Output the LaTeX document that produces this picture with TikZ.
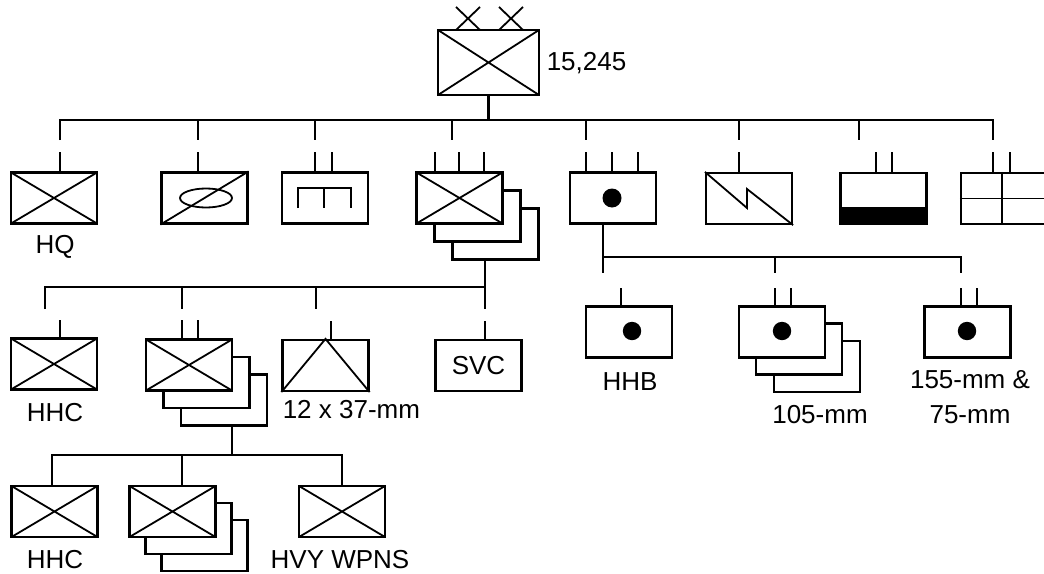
\documentclass[tikz,border=0pt]{standalone}
\usepackage{fontspec}
\setmainfont{Liberation Sans}
\begin{document}
\begin{tikzpicture}[x=0.5pt,y=-0.5pt,line width=1.1pt,
  every node/.style={font=\fontsize{13}{17.5}\selectfont},
  glyph/.style={line width=0.9pt},
  unitbox/.style={draw,line width=1.1pt,fill=white,minimum width=43pt,minimum height=25.5pt,inner sep=0pt},
  crossbox/.style={unitbox,path picture={\draw[glyph] (path picture bounding box.north west)--(path picture bounding box.south east) (path picture bounding box.south west)--(path picture bounding box.north east);}}]
\useasboundingbox (0,0) rectangle (1044,573);
\clip (0,0) rectangle (1044,573);
% division
\node[crossbox,minimum width=50.5pt,minimum height=32.5pt] (div) at (488.5,62.5) {};
\foreach \c in {468,511} \draw[glyph] (\c-12,7) -- (\c+12,30) (\c-12,30) -- (\c+12,7);
\node[anchor=west] (strength) at (539,63) {15,245};
% second row
\node[crossbox] (hq) at (54,198) {};
\node[unitbox] (recon) at (204.5,198) {};
\draw[glyph] (recon.south west) -- (recon.north east);
\draw[glyph] (206,198) ellipse [x radius=13pt,y radius=4.75pt];
\node[unitbox] (engr) at (325,198) {};
\draw (298,208) -- (298,188) -- (351,188) -- (351,208) (324,188) -- (324,208);
\node[unitbox] (inf3) at (495.5,234) {};
\node[unitbox] (inf2) at (477.5,216) {};
\node[crossbox] (inf) at (459.5,198) {};
\node[unitbox] (arty) at (613,198) {};
\fill (612,198) circle [radius=4.75pt];
\node[unitbox] (sig) at (749,198.5) {};
\draw[glyph] (sig.north west) -- (747,208) -- (747,189) -- (sig.south east);
\node[unitbox] (armor) at (883.5,198.5) {};
\fill (armor.south west) rectangle (armor.east |- 0,207);
\node[unitbox] (maint) at (1004,198.5) {};
\draw[glyph] (maint.west) -- (maint.east) (1002,0 |- maint.north) -- (1002,0 |- maint.south);
\node (hqlabel) at (55,247) {HQ};
% division bus
\draw (div.south) -- (488.5,120);
\draw (60,140) |- (993,120) -- (993,140);
\foreach \x in {198,315,452,586,739,859} \draw (\x,120) -- (\x,140);
\draw (60,152) -- (60,152 |- hq.north);
\draw (198,152) -- (198,152 |- recon.north);
\foreach \t in {315,332} \draw (\t,152) -- (\t,152 |- engr.north);
\foreach \t in {435,459,484} \draw (\t,152) -- (\t,152 |- inf.north);
\foreach \t in {586,612,638} \draw (\t,152) -- (\t,152 |- arty.north);
\draw (739,152) -- (739,152 |- sig.north);
\foreach \t in {876,892} \draw (\t,152) -- (\t,152 |- armor.north);
\foreach \t in {993,1010} \draw (\t,152) -- (\t,152 |- maint.north);
% regiment
\node[crossbox] (hhcA) at (54,364) {};
\node[unitbox] (bn3) at (224,400) {};
\node[unitbox] (bn2) at (206.5,382.5) {};
\node[crossbox] (bn) at (189,365) {};
\node[unitbox] (aa) at (325.5,365.5) {};
\draw[glyph] (aa.south west) -- (aa.north) -- (aa.south east);
\node[unitbox] (svc) at (478.5,365.5) {SVC};
\node (hhcAlabel) at (55,413) {HHC};
\node[anchor=west] (aalabel) at (275,410) {12 x 37-mm};
\draw (485,0 |- inf3.south) -- (485,309);
\draw (45,309) |- (485,287);
\foreach \x in {182,316} \draw (\x,287) -- (\x,309);
\draw (60,320) -- (60,320 |- hhcA.north);
\foreach \t in {182,198} \draw (\t,320) -- (\t,320 |- bn.north);
\draw (331,321) -- (331,321 |- aa.north);
\draw (485,321) -- (485,321 |- svc.north);
% artillery
\node[unitbox] (hhb) at (629,332) {};
\fill (632,331) circle [radius=4.6pt];
\node[unitbox] (how3) at (817,366.5) {};
\node[unitbox] (how2) at (799,349) {};
\node[unitbox] (how) at (782,332) {};
\fill (782,331) circle [radius=4.6pt];
\node[unitbox] (gs) at (967.5,332) {};
\fill (967,331) circle [radius=4.6pt];
\node (hhblabel) at (630,382) {HHB};
\node (howlabel) at (820,415) {105-mm};
\node[align=center] (gslabel) at (970,397) {155-mm \&\\75-mm};
\draw (603,0 |- arty.south) -- (603,273);
\draw (603,257) -| (961,273);
\draw (775,257) -- (775,273);
\draw (621,288) -- (621,288 |- hhb.north);
\foreach \t in {775,791} \draw (\t,288) -- (\t,288 |- how.north);
\foreach \t in {961,977} \draw (\t,288) -- (\t,288 |- gs.north);
% battalion
\node[crossbox] (hhcB) at (54.5,511.5) {};
\node[unitbox] (rifle3) at (204.5,545.5) {};
\node[unitbox] (rifle2) at (188.5,528.5) {};
\node[crossbox] (rifle) at (172.5,511.5) {};
\node[crossbox] (hvy) at (342,511.5) {};
\node (hhcBlabel) at (55,560) {HHC};
\node (hvylabel) at (340,560) {HVY WPNS};
\draw (232,0 |- bn3.south) -- (232,455);
\draw (52,0 |- hhcB.north) |- (342,455) -- (342,0 |- hvy.north);
\draw (182,455) -- (182,0 |- rifle.north);
\end{tikzpicture}
\end{document}
